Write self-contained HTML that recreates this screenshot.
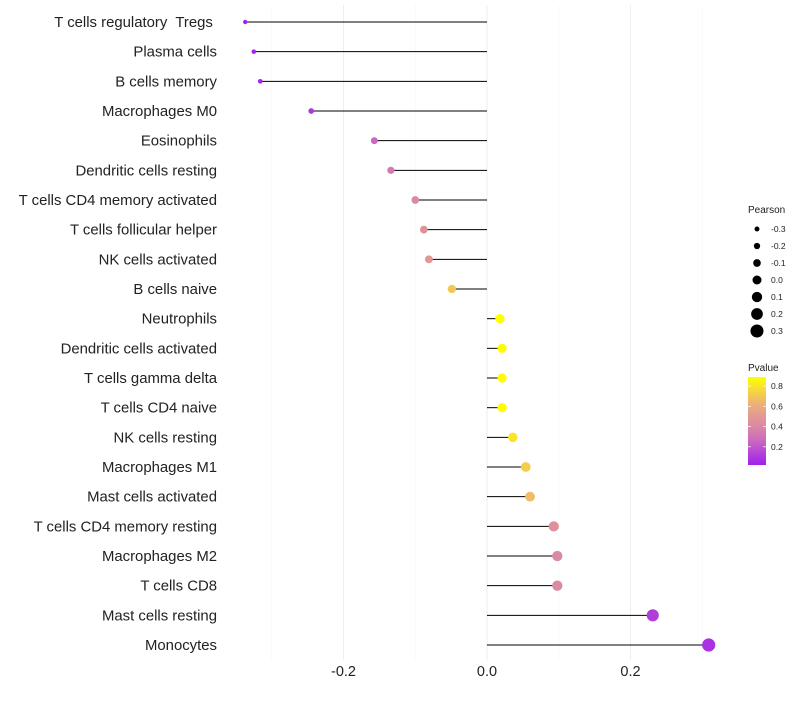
<!DOCTYPE html>
<html><head><meta charset="utf-8"><style>
body{margin:0;background:#fff;font-family:"Liberation Sans",sans-serif}
text{white-space:pre}
</style></head><body>
<svg id="chart" width="800" height="700" xmlns="http://www.w3.org/2000/svg" xml:space="preserve"></svg>
<script>
const categories=["T cells regulatory  Tregs ","Plasma cells","B cells memory","Macrophages M0","Eosinophils","Dendritic cells resting","T cells CD4 memory activated","T cells follicular helper","NK cells activated","B cells naive","Neutrophils","Dendritic cells activated","T cells gamma delta","T cells CD4 naive","NK cells resting","Macrophages M1","Mast cells activated","T cells CD4 memory resting","Macrophages M2","T cells CD8","Mast cells resting","Monocytes"];
const pearson=[-0.337,-0.325,-0.316,-0.245,-0.157,-0.134,-0.100,-0.088,-0.081,-0.049,0.018,0.021,0.021,0.021,0.036,0.054,0.060,0.093,0.098,0.098,0.231,0.309];
const pvalues=[0.03,0.04,0.05,0.10,0.26,0.32,0.42,0.46,0.50,0.70,0.89,0.88,0.88,0.88,0.80,0.72,0.66,0.45,0.42,0.42,0.12,0.08];
const xTicks=[-0.2,0.0,0.2];
const xTickLabels=["-0.2","0.0","0.2"];
const legendVals=[-0.3,-0.2,-0.1,0.0,0.1,0.2,0.3];
const legendLabels=["-0.3","-0.2","-0.1","0.0","0.1","0.2","0.3"];
const pTicks=[0.2,0.4,0.6,0.8];

const NS="http://www.w3.org/2000/svg";
const svg=document.getElementById('chart');
const x=v=>487+v*717.5;
const y=i=>22+i*29.667;
const r=v=>4.5+6.8*v;
function col(p){
  const t=Math.max(0,Math.min(1,(p-0.02)/0.87));
  const stops=[[160,32,240],[210,120,180],[235,170,130],[255,255,0]];
  const s=t*3,i=Math.min(2,Math.floor(s)),f=s-i;
  const c=stops[i].map((a,k)=>Math.round(a+(stops[i+1][k]-a)*f));
  return `rgb(${c})`;
}
function el(tag,attrs,parent){const e=document.createElementNS(NS,tag);for(const k in attrs)e.setAttribute(k,attrs[k]);(parent||svg).appendChild(e);return e;}
[-0.3,-0.1,0.1,0.3].forEach(v=>{const g=el('line',{x1:x(v),x2:x(v),y1:5,y2:660,stroke:'#f5f5f5','stroke-width':0.6});

});
xTicks.forEach((v,i)=>{const g=el('line',{x1:x(v),x2:x(v),y1:5,y2:660,stroke:'#eeeeee','stroke-width':1});


const t=el('text',{x:x(v),y:676,'text-anchor':'middle','font-size':14.5,fill:'#222'});t.textContent=xTickLabels[i];

});
categories.forEach((c,i)=>{
  const t=el('text',{x:217,y:y(i)+5,'text-anchor':'end','font-size':14.9,fill:'#222'});t.textContent=c;
  
  
  const l=el('line',{x1:x(0),x2:x(pearson[i]),y1:y(i),y2:y(i),stroke:'#000','stroke-width':1});
  
  
  const d=el('circle',{cx:x(pearson[i]),cy:y(i),r:r(pearson[i]),fill:col(pvalues[i])});
  
  
});
const lt=el('text',{x:748,y:213,'font-size':10,fill:'#222'});lt.textContent='Pearson';


legendVals.forEach((v,i)=>{
  const c=el('circle',{cx:757,cy:229+i*17,r:r(v),fill:'#000'});
  
  
  const t=el('text',{x:771,y:232+i*17,'font-size':8.5,fill:'#222'});t.textContent=legendLabels[i];
  
  
});
const pt=el('text',{x:748,y:371,'font-size':10,fill:'#222'});pt.textContent='Pvalue';


const defs=el('defs',{});const lg=el('linearGradient',{id:'pg',x1:0,y1:1,x2:0,y2:0},defs);
for(let k=0;k<=10;k++){el('stop',{offset:k/10,'stop-color':col(0.02+0.87*k/10)},lg);}
const bar=el('rect',{x:748,y:377,width:18,height:88,fill:'url(#pg)'});


pTicks.forEach(p=>{const yy=465-(p-0.02)/0.87*88;
  el('line',{x1:748,x2:751,y1:yy,y2:yy,stroke:'#fff','stroke-width':0.7});
  el('line',{x1:763,x2:766,y1:yy,y2:yy,stroke:'#fff','stroke-width':0.7});
  const t=el('text',{x:771,y:yy+3,'font-size':8.5,fill:'#222'});t.textContent=p.toFixed(1);
  
  });
</script>
</body></html>
